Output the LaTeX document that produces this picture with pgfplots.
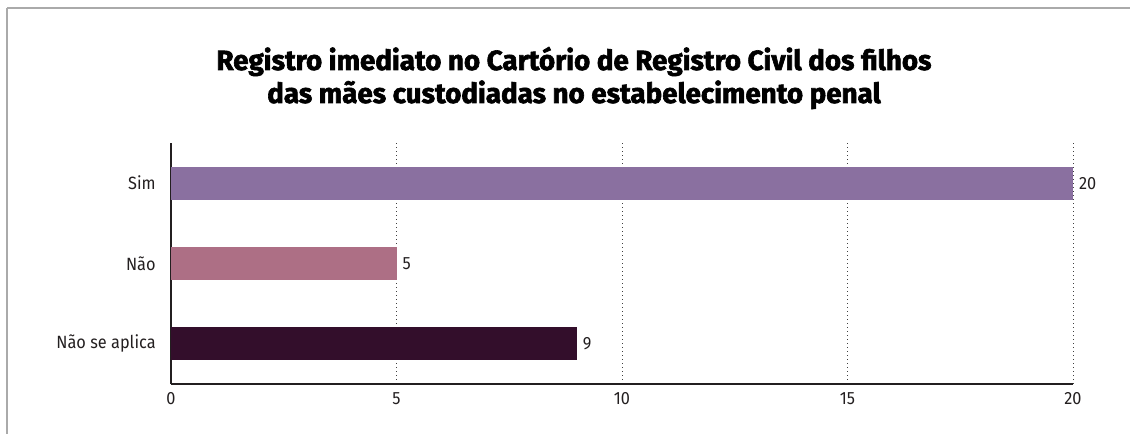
\documentclass[border=0pt]{standalone}
\usepackage{fontspec}
\setmainfont{Fira Sans}
\newfontfamily\titlefont[FakeStretch=1.0,FakeBold=2.2]{Fira Sans}
\newfontfamily\lblfont[FakeStretch=0.92]{Fira Sans}
\usepackage{pgfplots}
\pgfplotsset{compat=1.18}
\definecolor{simc}{HTML}{8A70A0}
\definecolor{naoc}{HTML}{AD6F85}
\definecolor{nsac}{HTML}{330E2B}
\definecolor{axc}{HTML}{231F20}
\definecolor{framec}{HTML}{AAAAAA}
\begin{document}
\begin{tikzpicture}[x=0.75pt,y=0.75pt]
\useasboundingbox (0,0) rectangle (1130,434);
\draw[framec,line width=1.5pt] (7,425.5) -- (1130,425.5);
\draw[framec,line width=1.5pt] (7,425.5) -- (7,0);
\node[font=\titlefont\bfseries\fontsize{20.8}{25}\selectfont,anchor=base] at (574,364) {Registro imediato no Cartório de Registro Civil dos filhos};
\node[font=\titlefont\bfseries\fontsize{20.8}{25}\selectfont,anchor=base] at (574,331) {das mães custodiadas no estabelecimento penal};
\begin{axis}[
  at={(128.25pt,37.5pt)}, anchor=south west,
  scale only axis, width=676.5pt, height=180.75pt,
  xmin=0, xmax=20, ymin=-0.5, ymax=2.5,
  xbar, bar shift=0pt, bar width=24.75pt,
  axis lines*=left,
  axis line style={axc, line width=2.2pt},
  xtick={0,5,10,15,20},
  ytick={0,1,2},
  yticklabels={Não se aplica,Não,Sim},
  major tick length=0pt,
  xmajorgrids,
  major grid style={black!75, line width=0.7pt, dash pattern=on 0.7pt off 2.3pt},
  tick label style={font=\lblfont\fontsize{13.3}{15}\selectfont, text=axc},
  /pgf/number format/assume math mode=true,
  xticklabel style={yshift=-3pt},
  yticklabel style={xshift=-8pt},
  nodes near coords,
  every node near coord/.append style={font=\lblfont\fontsize{13.3}{15}\selectfont, text=axc, anchor=west, xshift=1pt},
  clip=false,
]
\addplot[fill=simc, draw=none] coordinates {(20,2)};
\addplot[fill=naoc, draw=none] coordinates {(5,1)};
\addplot[fill=nsac, draw=none] coordinates {(9,0)};
\end{axis}
\end{tikzpicture}
\end{document}
